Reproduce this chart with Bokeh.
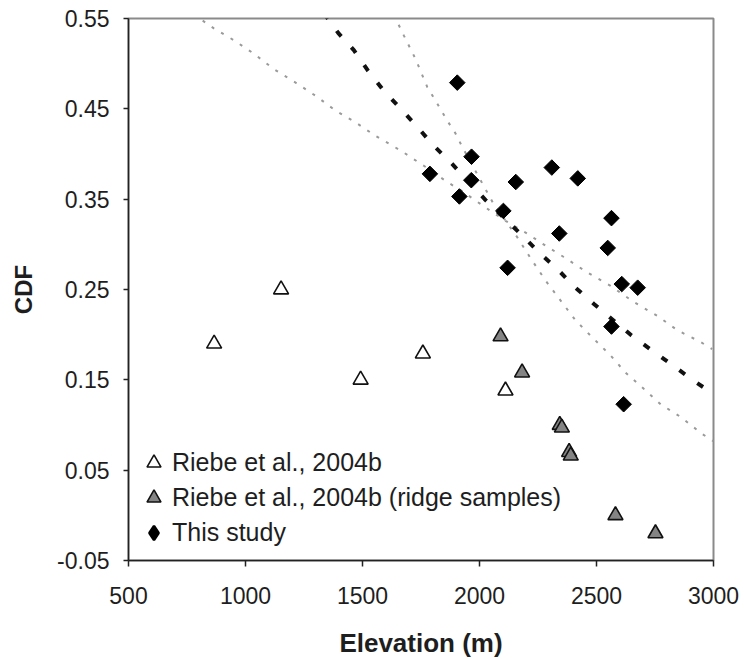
from bokeh.plotting import figure
from bokeh.models import FixedTicker, PrintfTickFormatter, Legend, LegendItem
from bokeh.embed import file_html
from bokeh.resources import INLINE
import numpy as np

# ---- data ----
riebe_elev = [866, 1152, 1492, 1758, 2111]
riebe_cdf = [0.190, 0.250, 0.150, 0.179, 0.138]

ridge_elev = [2090, 2182, 2343, 2352, 2383, 2390, 2581, 2752]
ridge_cdf = [0.198, 0.158, 0.100, 0.097, 0.070, 0.066, 0.000, -0.020]

study_elev = [1905, 1966, 1788, 1965, 1914, 2155, 2309, 2420, 2102, 2564, 2341,
              2548, 2120, 2608, 2676, 2564, 2616]
study_cdf = [0.479, 0.397, 0.378, 0.371, 0.353, 0.369, 0.385, 0.373, 0.337, 0.329,
             0.312, 0.296, 0.274, 0.256, 0.252, 0.209, 0.123]

fit_elev = [1335, 1396, 1463, 1524, 1591, 1660, 1734, 1805, 1883, 2026, 2182, 2258,
            2335, 2410, 2489, 2650, 2735, 2816, 2899, 2984, 3000]
fit_cdf = [0.556, 0.534, 0.515, 0.492, 0.470, 0.451, 0.430, 0.409, 0.389, 0.349,
           0.310, 0.290, 0.272, 0.252, 0.234, 0.199, 0.183, 0.168, 0.152, 0.137, 0.135]

upper_elev = [736, 815, 865, 950, 1036, 1121, 1214, 1302, 1385, 1470, 1556, 1662,
              1762, 1862, 1919, 2047, 2111, 2204, 2261, 2360, 2460, 2560, 2660,
              2759, 2845, 2944, 2994]
upper_cdf = [0.560, 0.548, 0.539, 0.526, 0.511, 0.494, 0.479, 0.464, 0.448, 0.435,
             0.420, 0.404, 0.387, 0.369, 0.360, 0.337, 0.326, 0.312, 0.302, 0.286,
             0.269, 0.254, 0.236, 0.221, 0.205, 0.192, 0.184]

lower_elev = [1634, 1677, 1727, 1777, 1819, 1862, 1897, 1926, 2066, 2090, 2161,
              2225, 2282, 2346, 2410, 2482, 2560, 2624, 2702, 2774, 2859, 2952, 3000]
lower_cdf = [0.554, 0.531, 0.505, 0.474, 0.456, 0.437, 0.423, 0.408, 0.342, 0.334,
             0.308, 0.282, 0.260, 0.238, 0.216, 0.197, 0.177, 0.158, 0.140, 0.123,
             0.109, 0.090, 0.082]

x_ticks = [500, 1000, 1500, 2000, 2500, 3000]
y_ticks = [-0.05, 0.05, 0.15, 0.25, 0.35, 0.45, 0.55]

legend_labels = ["Riebe et al., 2004b", "Riebe et al., 2004b (ridge samples)", "This study"]

FONT = "Liberation Sans"
TXT = "#1e1e1e"

p = figure(width=744, height=660, x_range=(500, 3000), y_range=(-0.05, 0.55),
           output_backend="svg", toolbar_location=None,
           min_border_left=128, min_border_right=31, min_border_top=18,
           min_border_bottom=100)

p.background_fill_color = "white"
p.border_fill_color = "white"
p.outline_line_color = "#8a8a8a"
p.outline_line_width = 2
p.xgrid.visible = False
p.ygrid.visible = False

# trend lines
p.line(upper_elev, upper_cdf, line_color="#9a9a9a", line_width=2, line_dash="3 8")
p.line(lower_elev, lower_cdf, line_color="#9a9a9a", line_width=2, line_dash="3 8")
p.line(fit_elev, fit_cdf, line_color="#111111", line_width=4, line_dash="7 15")

r1 = p.scatter(riebe_elev, riebe_cdf, marker="triangle", size=15,
               fill_color="white", line_color="#111111", line_width=1.6)
r2 = p.scatter(ridge_elev, ridge_cdf, marker="triangle", size=15,
               fill_color="#848484", line_color="#111111", line_width=1.6)
p.scatter(study_elev, study_cdf, marker="square", angle=np.pi / 4, size=11,
          fill_color="#000000", line_color="#000000", line_width=1)
# hidden legend proxy for the diamonds (legend glyphs are drawn unrotated)
r3 = p.scatter(study_elev, study_cdf, marker="diamond", size=15,
               fill_color="#000000", line_color="#000000", line_width=2.5,
               visible=False)

for ax in (p.xaxis[0], p.yaxis[0]):
    ax.axis_line_color = "#222222"
    ax.axis_line_width = 1.5
    ax.major_tick_line_color = "#222222"
    ax.major_tick_line_width = 1.5
    ax.minor_tick_line_color = None
    ax.major_label_text_font = FONT
    ax.major_label_text_font_size = "23px"
    ax.major_label_text_color = TXT
    ax.axis_label_text_font = FONT
    ax.axis_label_text_font_style = "bold"
    ax.axis_label_text_color = TXT

p.xaxis.ticker = FixedTicker(ticks=x_ticks)
p.xaxis.major_tick_in = 0
p.xaxis.major_tick_out = 6
p.xaxis.major_label_standoff = 20
p.xaxis.axis_label = "Elevation (m)"
p.xaxis.axis_label_text_font_size = "26px"
p.xaxis.axis_label_standoff = 21

p.yaxis.ticker = FixedTicker(ticks=y_ticks)
p.yaxis.formatter = PrintfTickFormatter(format="%.2f")
p.yaxis.major_tick_in = 0
p.yaxis.major_tick_out = 5
p.yaxis.major_label_standoff = 14
p.yaxis.axis_label = "CDF"
p.yaxis.axis_label_text_font_size = "24px"
p.yaxis.axis_label_standoff = 17

legend = Legend(items=[
    LegendItem(label=legend_labels[0], renderers=[r1]),
    LegendItem(label=legend_labels[1], renderers=[r2]),
    LegendItem(label=legend_labels[2], renderers=[r3]),
], location=(7, 10), border_line_color=None, background_fill_alpha=0,
    inactive_fill_alpha=0,
    label_text_font=FONT, label_text_font_size="25px", label_text_color=TXT,
    glyph_width=37, glyph_height=35, label_height=28, spacing=0, padding=0,
    margin=0, label_standoff=-2)
p.add_layout(legend)

open("out.html", "w").write(file_html(p, INLINE))
